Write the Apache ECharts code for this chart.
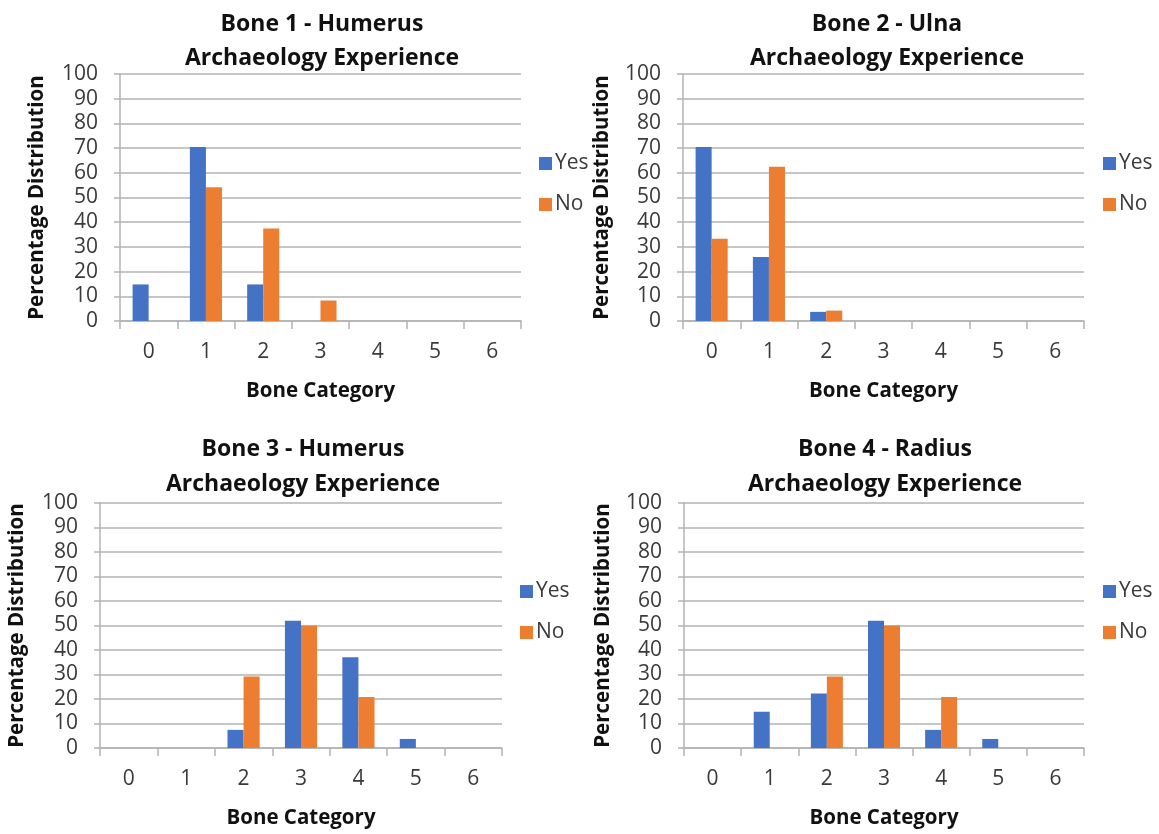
<!DOCTYPE html>
<html>
<head>
<meta charset="utf-8">
<script src="https://cdn.jsdelivr.net/npm/echarts@6/dist/echarts.min.js"></script>
<style>
  html, body { margin: 0; padding: 0; background: #fff; }
  #chart { width: 1159px; height: 834px; }
</style>
</head>
<body>
<div id="chart"></div>
<script>
// Bone categories on the x axis
const categories = ['0', '1', '2', '3', '4', '5', '6'];
const yTicks = { min: 0, max: 100, interval: 10 };

// Percentage distribution per category, split by archaeology experience
const bone1Yes = [14.8, 70.4, 14.8, 0, 0, 0, 0];
const bone1No  = [0, 54.2, 37.5, 8.3, 0, 0, 0];
const bone2Yes = [70.4, 25.9, 3.7, 0, 0, 0, 0];
const bone2No  = [33.3, 62.5, 4.2, 0, 0, 0, 0];
const bone3Yes = [0, 0, 7.4, 51.9, 37.0, 3.7, 0];
const bone3No  = [0, 0, 29.2, 50.0, 20.8, 0, 0];
const bone4Yes = [0, 14.8, 22.2, 51.9, 7.4, 3.7, 0];
const bone4No  = [0, 0, 29.2, 50.0, 20.8, 0, 0];

const titles = [
  'Bone 1 - Humerus\nArchaeology Experience',
  'Bone 2 - Ulna\nArchaeology Experience',
  'Bone 3 - Humerus\nArchaeology Experience',
  'Bone 4 - Radius\nArchaeology Experience'
];
const panels = [
  { yes: bone1Yes, no: bone1No },
  { yes: bone2Yes, no: bone2No },
  { yes: bone3Yes, no: bone3No },
  { yes: bone4Yes, no: bone4No }
];

const FONT = '"Open Sans", sans-serif';
const BLUE = '#4472C4';
const ORANGE = '#ED7D31';
const AXIS = '#b3b3b3';
const TEXT = '#3a3a3a';

// panel geometry
const layout = [
  { left: 120, top: 74,  width: 401, height: 247, titleX: 317, titleY: 2,   titleLH: 34, legendX: 534, legendY: 148, nameGap: 72 },
  { left: 683, top: 74,  width: 401, height: 247, titleX: 882, titleY: 2,   titleLH: 34, legendX: 1098, legendY: 148, nameGap: 70 },
  { left: 100, top: 503, width: 402, height: 245, titleX: 298, titleY: 427, titleLH: 35, legendX: 515, legendY: 576, nameGap: 72 },
  { left: 684, top: 503, width: 400, height: 245, titleX: 880, titleY: 427, titleLH: 35, legendX: 1098, legendY: 576, nameGap: 70 }
];

const grid = [], xAxis = [], yAxis = [], series = [], title = [], legend = [];

layout.forEach((L, i) => {
  grid.push({ left: L.left, top: L.top, width: L.width, height: L.height, containLabel: false });
  title.push({
    text: titles[i],
    left: L.titleX,
    top: L.titleY,
    textAlign: 'center',
    textStyle: { fontFamily: FONT, fontWeight: 'bold', fontSize: 23, color: '#111', lineHeight: L.titleLH }
  });
  xAxis.push({
    type: 'category',
    gridIndex: i,
    data: categories,
    name: 'Bone Category',
    nameLocation: 'middle',
    nameGap: 60,
    nameTextStyle: { fontFamily: FONT, fontWeight: 'bold', fontSize: 20.5, color: '#111' },
    axisLine: { lineStyle: { color: AXIS, width: 1.5 } },
    axisTick: { show: true, length: 8, alignWithLabel: false, lineStyle: { color: AXIS, width: 1.5 } },
    axisLabel: { fontFamily: FONT, fontSize: 21, color: TEXT, margin: 21 }
  });
  yAxis.push({
    type: 'value',
    gridIndex: i,
    min: yTicks.min,
    max: yTicks.max,
    interval: yTicks.interval,
    name: 'Percentage Distribution',
    nameLocation: 'middle',
    nameRotate: 90,
    nameGap: L.nameGap,
    nameTextStyle: { fontFamily: FONT, fontWeight: 'bold', fontSize: 20.5, color: '#111' },
    axisLine: { show: true, lineStyle: { color: AXIS, width: 1.5 } },
    axisTick: { show: true, length: 6, lineStyle: { color: AXIS, width: 1.5 } },
    axisLabel: { fontFamily: FONT, fontSize: 21, color: TEXT, margin: 22 },
    splitLine: { show: true, lineStyle: { color: AXIS, width: 1.5 } }
  });
  legend.push({
    orient: 'vertical',
    left: L.legendX,
    top: L.legendY,
    icon: 'rect',
    itemWidth: 13,
    itemHeight: 13,
    itemGap: 20,
    data: ['Yes', 'No'],
    textStyle: { fontFamily: FONT, fontSize: 21, color: TEXT, padding: [0, 0, 0, -2] }
  });
  series.push({
    name: 'Yes', type: 'bar', xAxisIndex: i, yAxisIndex: i,
    data: panels[i].yes, itemStyle: { color: BLUE },
    barGap: '0%', barCategoryGap: '44%', silent: true
  });
  series.push({
    name: 'No', type: 'bar', xAxisIndex: i, yAxisIndex: i,
    data: panels[i].no, itemStyle: { color: ORANGE },
    barGap: '0%', barCategoryGap: '44%', silent: true
  });
});

const chart = echarts.init(document.getElementById('chart'), null, { renderer: 'canvas' });
chart.setOption({
  animation: false,
  backgroundColor: '#fff',
  title, legend, grid, xAxis, yAxis, series
});
</script>
</body>
</html>
